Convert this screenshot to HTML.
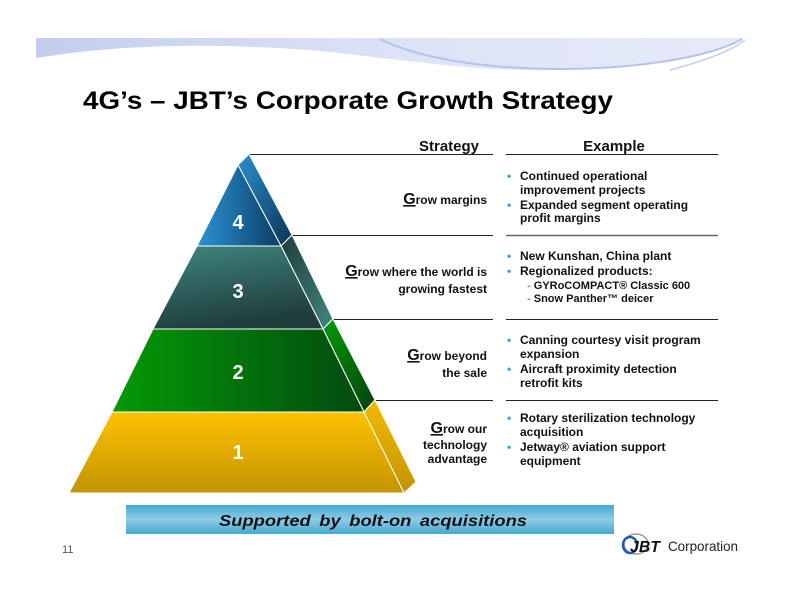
<!DOCTYPE html>
<html><head><meta charset="utf-8"><style>
html,body{margin:0;padding:0;background:#fff;}
svg{display:block;}
text{font-family:"Liberation Sans",Arial,sans-serif;}
</style></head><body>
<svg width="792" height="612" viewBox="0 0 792 612" xmlns="http://www.w3.org/2000/svg">
<defs>
<linearGradient id="ban" x1="0" y1="0" x2="1" y2="0">
<stop offset="0" stop-color="#c3cdee"/><stop offset="0.5" stop-color="#dde3f6"/><stop offset="1" stop-color="#e6eaf8"/></linearGradient>
<linearGradient id="t4" x1="0" y1="0" x2="1" y2="0"><stop offset="0" stop-color="#2a93d6"/><stop offset="1" stop-color="#0c3d63"/></linearGradient>
<linearGradient id="s4" x1="0" y1="0" x2="1" y2="1"><stop offset="0" stop-color="#2b8fd0"/><stop offset="1" stop-color="#0b3354"/></linearGradient>
<linearGradient id="t3" x1="0" y1="0" x2="0.3" y2="1"><stop offset="0" stop-color="#3f8680"/><stop offset="1" stop-color="#1f3d3c"/></linearGradient>
<linearGradient id="s3" x1="0" y1="0" x2="1" y2="1"><stop offset="0" stop-color="#1f3d3c"/><stop offset="1" stop-color="#42857f"/></linearGradient>
<linearGradient id="t2" x1="0" y1="0" x2="1" y2="0"><stop offset="0" stop-color="#049a05"/><stop offset="1" stop-color="#034a10"/></linearGradient>
<linearGradient id="s2" x1="0" y1="0" x2="1" y2="1"><stop offset="0" stop-color="#049a05"/><stop offset="1" stop-color="#034010"/></linearGradient>
<linearGradient id="t1" x1="0" y1="0" x2="0" y2="1"><stop offset="0" stop-color="#fdc200"/><stop offset="1" stop-color="#c39400"/></linearGradient>
<linearGradient id="s1" x1="0" y1="0" x2="0" y2="1"><stop offset="0" stop-color="#f3b900"/><stop offset="1" stop-color="#c39400"/></linearGradient>
<linearGradient id="bar" x1="0" y1="0" x2="0" y2="1"><stop offset="0" stop-color="#44a9d2"/><stop offset="0.5" stop-color="#8fcbe6"/><stop offset="1" stop-color="#44a9d2"/></linearGradient>
</defs>
<!-- banner -->
<path d="M36 38 L745 38 C720 54 660 68 560 70 C480 72 420 62 330 52 C220 42 120 44 36 58 Z" fill="url(#ban)"/>
<path d="M380 39 C430 64 520 72 600 68 C670 64 720 52 742 39" fill="none" stroke="#b5c3ea" stroke-width="2"/>
<path d="M670 70 C700 62 730 52 745 40" fill="none" stroke="#c5d0ef" stroke-width="1.5"/>
<!-- title -->
<text x="83" y="109" font-size="25" font-weight="bold" fill="#000" textLength="530" lengthAdjust="spacingAndGlyphs">4G’s – JBT’s Corporate Growth Strategy</text>
<!-- lines -->
<g stroke="#222" stroke-width="1">
<line x1="249" y1="154.5" x2="493" y2="154.5"/><line x1="506" y1="154.5" x2="718" y2="154.5"/>
<line x1="292" y1="235.5" x2="493" y2="235.5"/><line x1="506" y1="235.5" x2="718" y2="235.5" stroke="#666" stroke-width="1.5"/>
<line x1="333" y1="319.5" x2="493" y2="319.5"/><line x1="506" y1="319.5" x2="718" y2="319.5"/>
<line x1="375" y1="400.5" x2="493" y2="400.5"/><line x1="506" y1="400.5" x2="718" y2="400.5"/>
</g>
<!-- pyramid -->
<g stroke="#fff" stroke-width="1" stroke-linejoin="round">
<polygon points="238,165 249,154 292,235 281,246" fill="url(#s4)"/>
<polygon points="238,165 281,246 197,246" fill="url(#t4)"/>
<polygon points="281,246 292,235 333,319 323,329" fill="url(#s3)"/>
<polygon points="197,246 281,246 323,329 153,329" fill="url(#t3)"/>
<polygon points="323,329 333,319 375,400 364,412" fill="url(#s2)"/>
<polygon points="153,329 323,329 364,412 112,412" fill="url(#t2)"/>
<polygon points="364,412 375,400 416,482 404,493" fill="url(#s1)"/>
<polygon points="112,412 364,412 404,493 69,493" fill="url(#t1)"/>
</g>
<g font-size="20" font-weight="bold" fill="#fff" text-anchor="middle">
<text x="238" y="229">4</text><text x="238" y="298">3</text><text x="238" y="379">2</text><text x="238" y="459">1</text>
</g>
<!-- headers -->
<g font-size="15" font-weight="bold" fill="#111" text-anchor="middle">
<text x="449" y="151">Strategy</text><text x="614" y="151">Example</text>
</g>
<!-- strategy labels -->
<g font-size="12" font-weight="bold" fill="#111" text-anchor="end">
<text x="487" y="204"><tspan font-size="16" text-decoration="underline">G</tspan>row margins</text>
<text x="487" y="276"><tspan font-size="16" text-decoration="underline">G</tspan>row where the world is</text>
<text x="487" y="293">growing fastest</text>
<text x="487" y="360"><tspan font-size="16" text-decoration="underline">G</tspan>row beyond</text>
<text x="487" y="377">the sale</text>
<text x="487" y="433"><tspan font-size="16" text-decoration="underline">G</tspan>row our</text>
<text x="487" y="449">technology</text>
<text x="487" y="463">advantage</text>
</g>
<!-- example bullets -->
<g font-size="12" font-weight="bold" fill="#111">
<g fill="#3aa6d8"><text x="507" y="180">•</text><text x="507" y="209">•</text><text x="507" y="260">•</text><text x="507" y="275">•</text><text x="507" y="344">•</text><text x="507" y="373">•</text><text x="507" y="422">•</text><text x="507" y="451">•</text></g>
<text x="520" y="180">Continued operational</text>
<text x="520" y="194">improvement projects</text>
<text x="520" y="209">Expanded segment operating</text>
<text x="520" y="222">profit margins</text>
<text x="520" y="260">New Kunshan, China plant</text>
<text x="520" y="275">Regionalized products:</text>
<text x="527" y="289" font-size="11"><tspan fill="#3aa6d8">-</tspan> GYRoCOMPACT® Classic 600</text>
<text x="527" y="302" font-size="11"><tspan fill="#3aa6d8">-</tspan> Snow Panther™ deicer</text>
<text x="520" y="344">Canning courtesy visit program</text>
<text x="520" y="358">expansion</text>
<text x="520" y="373">Aircraft proximity detection</text>
<text x="520" y="387">retrofit kits</text>
<text x="520" y="422">Rotary sterilization technology</text>
<text x="520" y="436">acquisition</text>
<text x="520" y="451">Jetway® aviation support</text>
<text x="520" y="465">equipment</text>
</g>
<!-- footer bar -->
<rect x="126" y="505" width="488" height="29" fill="url(#bar)"/>
<text x="219" y="526" font-size="16" font-weight="bold" font-style="italic" fill="#111" textLength="308" lengthAdjust="spacingAndGlyphs" word-spacing="3">Supported by bolt-on acquisitions</text>
<!-- logo -->
<ellipse cx="636" cy="544" rx="12" ry="10" fill="none" stroke="#999" stroke-width="1.5"/>
<ellipse cx="630" cy="545" rx="7" ry="8" fill="none" stroke="#1e5bb8" stroke-width="2.5"/>
<text x="630" y="552" font-size="16" font-weight="bold" font-style="italic" fill="#111" textLength="30" lengthAdjust="spacingAndGlyphs">JBT</text>
<text x="668" y="551" font-size="14" fill="#222" textLength="70" lengthAdjust="spacingAndGlyphs">Corporation</text>
<text x="62" y="553" font-size="11" fill="#555" font-family="Liberation Serif, serif">11</text>
</svg>
</body></html>
